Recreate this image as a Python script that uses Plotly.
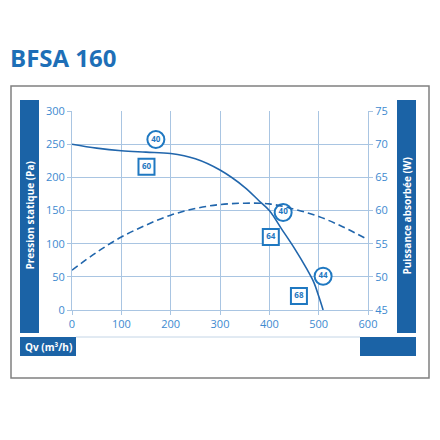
import plotly.graph_objects as go

# pressure curve (Pa) vs flow (m3/h)
flow_p = [0, 50, 100, 150, 200, 250, 300, 350, 380, 400, 425, 450, 475, 490, 500, 509]
pressure = [250, 244, 240, 238, 236, 228, 211, 185, 164, 150, 122, 94, 63, 42, 21, 0]

# absorbed power (W) vs flow
flow_w = [0, 50, 100, 150, 200, 250, 300, 350, 400, 450, 500, 550, 600]
power = [51, 53.7, 56, 57.8, 59.3, 60.3, 60.9, 61.1, 61.0, 60.2, 59.1, 57.5, 55.6]

# noise labels: circles and squares
circle_x = [170, 428, 509]
circle_y = [257, 147, 51]
circle_txt = ["40", "40", "44"]
square_x = [151, 403, 460]
square_y = [216, 110, 21]
square_txt = ["60", "64", "68"]

x_ticks = [0, 100, 200, 300, 400, 500, 600]
y_ticks = [0, 50, 100, 150, 200, 250, 300]
y2_ticks = [45, 50, 55, 60, 65, 70, 75]

BAR = "#1b63a6"
LINE = "#2166ac"
TICK = "#3d8ad0"
GRID = "#a9c5e2"
MARK = "#1f78c1"

# page offset of the plot div (body margin) and plot area in screen pixels
OFF = 8
L, R, T, B = 72, 368, 111, 310


def px(x):
    return (x - L) / (R - L)


def py(y):
    return (B - y) / (B - T)


fig = go.Figure()

fig.add_trace(go.Scatter(
    x=flow_w, y=power, yaxis="y2", mode="lines",
    line=dict(color=LINE, width=1.6, dash="7px,4px", shape="spline"),
    hoverinfo="skip"
))
fig.add_trace(go.Scatter(
    x=flow_p, y=pressure, mode="lines",
    line=dict(color=LINE, width=1.6, shape="spline"),
    hoverinfo="skip"
))
fig.add_trace(go.Scatter(
    x=circle_x, y=circle_y, mode="markers+text", text=circle_txt,
    textposition="middle center",
    textfont=dict(size=8, color=MARK, family="Open Sans", weight="bold"),
    marker=dict(symbol="circle", size=17, color="white", line=dict(color=MARK, width=2)),
    hoverinfo="skip"
))
fig.add_trace(go.Scatter(
    x=square_x, y=square_y, mode="markers+text", text=square_txt,
    textposition="middle center",
    textfont=dict(size=8, color=MARK, family="Open Sans", weight="bold"),
    marker=dict(symbol="square", size=16, color="white", line=dict(color=MARK, width=2)),
    hoverinfo="skip"
))

shapes = [
    # outer frame
    dict(type="rect", xref="paper", yref="paper", x0=px(11), x1=px(429), y0=py(378), y1=py(86),
         line=dict(color="#808080", width=1.5), layer="below"),
    # side bars
    dict(type="rect", xref="paper", yref="paper", x0=px(20), x1=px(39), y0=py(333), y1=py(100),
         fillcolor=BAR, line=dict(width=0), layer="below"),
    dict(type="rect", xref="paper", yref="paper", x0=px(397), x1=px(416), y0=py(333), y1=py(100),
         fillcolor=BAR, line=dict(width=0), layer="below"),
    # bottom bars
    dict(type="rect", xref="paper", yref="paper", x0=px(20), x1=px(76), y0=py(356), y1=py(337),
         fillcolor=BAR, line=dict(width=0), layer="below"),
    dict(type="rect", xref="paper", yref="paper", x0=px(360), x1=px(416), y0=py(356), y1=py(337),
         fillcolor=BAR, line=dict(width=0), layer="below"),
    dict(type="line", xref="paper", yref="paper", x0=px(76), x1=px(360), y0=py(337), y1=py(337),
         line=dict(color="#c4d5e6", width=1), layer="below"),
]

annotations = [
    dict(text="<b>BFSA 160</b>", xref="paper", yref="paper", x=px(8), y=py(76),
         xanchor="left", yanchor="bottom", showarrow=False,
         font=dict(size=24, color="#1e6fb7", family="Open Sans")),
    dict(text="<b>Pression statique (Pa)</b>", xref="paper", yref="paper", x=px(29.5), y=py(216),
         xanchor="center", yanchor="middle", textangle=-90, showarrow=False,
         font=dict(size=10, color="white", family="Open Sans")),
    dict(text="<b>Puissance absorbée (W)</b>", xref="paper", yref="paper", x=px(406.5), y=py(216),
         xanchor="center", yanchor="middle", textangle=-90, showarrow=False,
         font=dict(size=10, color="white", family="Open Sans")),
    dict(text="<b>Qv (m³/h)</b>", xref="paper", yref="paper", x=px(48), y=py(346.5),
         xanchor="center", yanchor="middle", showarrow=False,
         font=dict(size=10, color="white", family="Open Sans")),
]

fig.update_layout(
    width=440, height=440,
    margin=dict(l=L - OFF, r=440 - (R - OFF), t=T - OFF, b=440 - (B - OFF)),
    paper_bgcolor="white", plot_bgcolor="white",
    showlegend=False,
    font=dict(family="Open Sans", size=11, color=TICK),
    shapes=shapes, annotations=annotations,
    xaxis=dict(range=[0, 600], tickvals=x_ticks, showgrid=True, gridcolor=GRID, gridwidth=1,
               showline=True, linecolor=GRID, ticks="outside", ticklen=4, tickcolor=GRID,
               zeroline=False, mirror=False, fixedrange=True),
    yaxis=dict(range=[0, 300], tickvals=y_ticks, showgrid=True, gridcolor=GRID, gridwidth=1,
               showline=True, linecolor=GRID, ticks="outside", ticklen=4, tickcolor=GRID,
               zeroline=False, fixedrange=True),
    yaxis2=dict(range=[45, 75], tickvals=y2_ticks, overlaying="y", side="right", showgrid=False,
                showline=True, linecolor=GRID, ticks="outside", ticklen=4, tickcolor=GRID,
                zeroline=False, fixedrange=True),
)

fig.write_html("out.html", config=dict(displayModeBar=False))
